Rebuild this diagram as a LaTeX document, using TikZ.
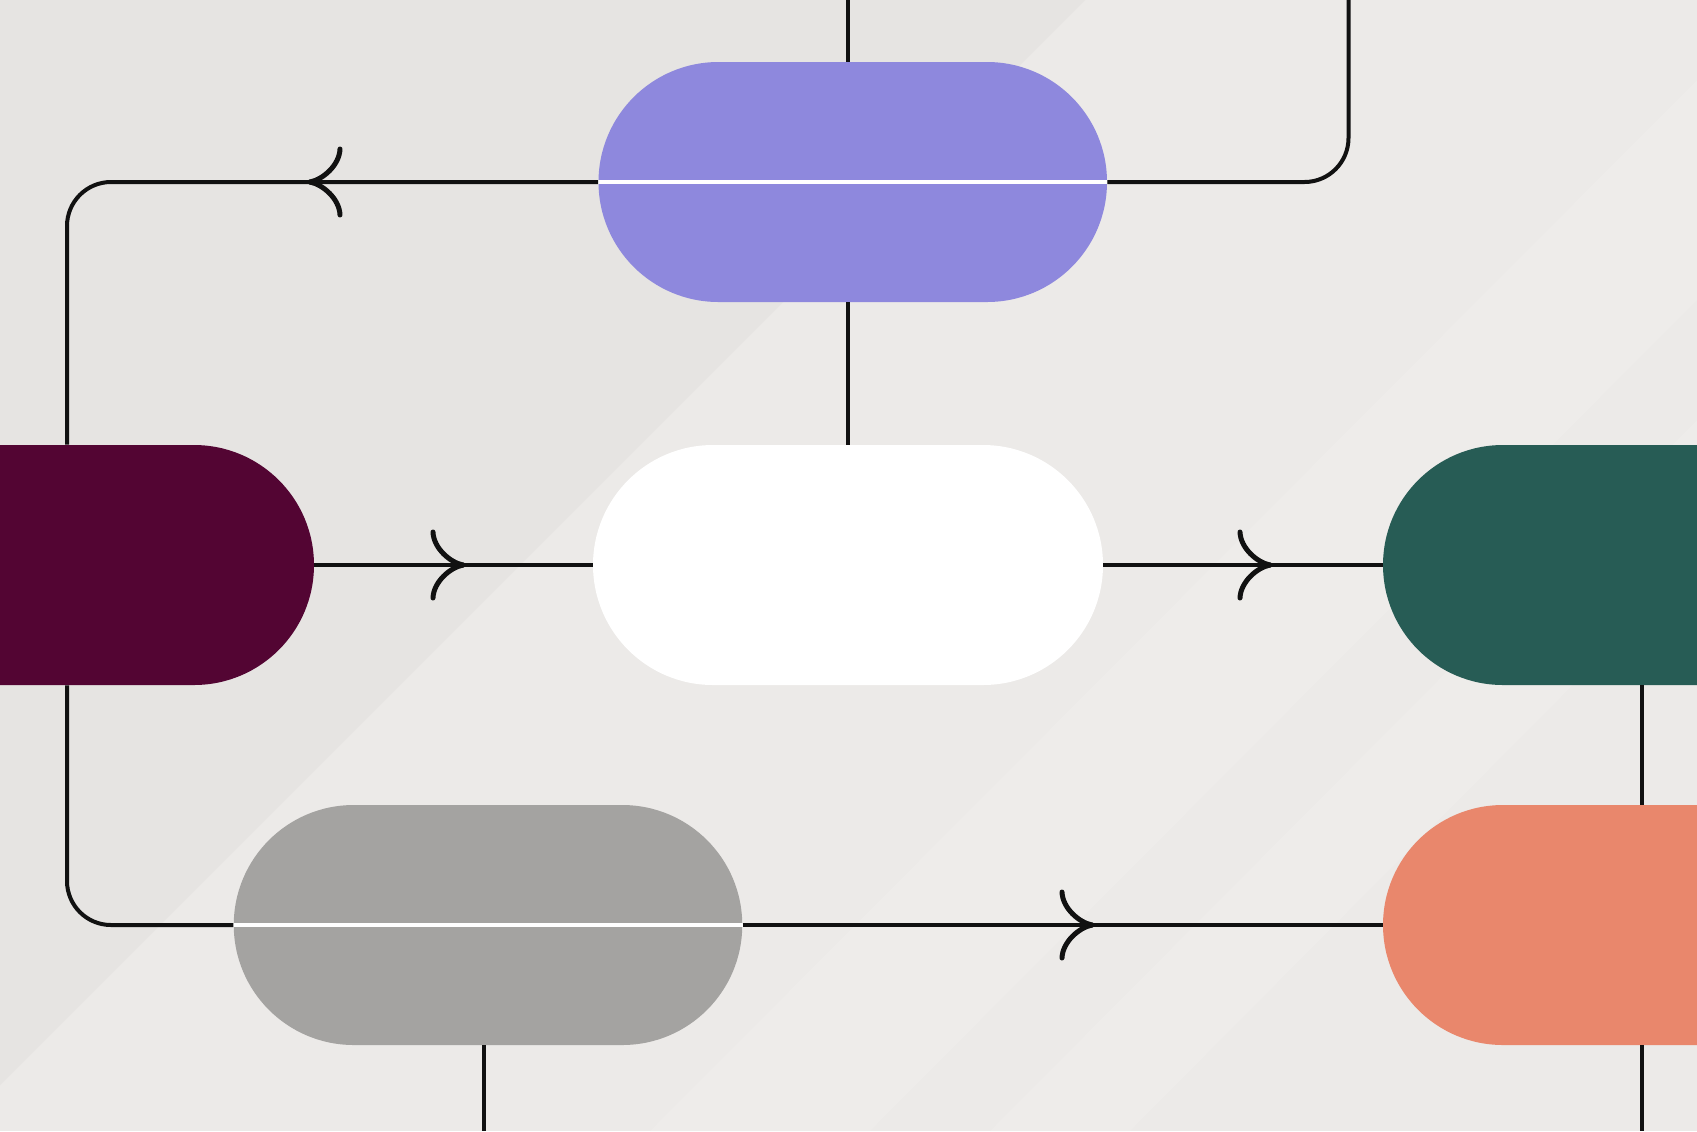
\documentclass[tikz,border=0pt]{standalone}
\usetikzlibrary{calc}
\definecolor{bg}{HTML}{ECEAE8}
\definecolor{bgdark}{HTML}{E6E4E2}
\definecolor{bglight}{HTML}{EEECEA}
\definecolor{purplepill}{HTML}{8E88DD}
\definecolor{maroonpill}{HTML}{530533}
\definecolor{greenpill}{HTML}{275C55}
\definecolor{salmonpill}{HTML}{E9876C}
\definecolor{graypill}{HTML}{A4A3A1}
\definecolor{ink}{HTML}{111111}
\tikzset{
  pill/.style={rectangle, rounded corners=60pt, minimum height=120pt, inner sep=0pt, draw=none},
  conn/.style={draw=ink, line width=2pt, rounded corners=22pt},
  splitline/.style={draw=white, line width=1.8pt},
  arm/.style={draw=ink, line width=2.5pt, line cap=round, sharp corners},
  pics/harp/.style={code={
    \draw[arm] (-30,-33) .. controls (-29.5,-17) and (-13,-2.5) .. (0,0);
    \draw[arm] (-30,33) .. controls (-29.5,17) and (-13,2.5) .. (0,0);}}
}
\begin{document}
\begin{tikzpicture}[x=0.5pt,y=-0.5pt]
\useasboundingbox (0,0) rectangle (1697,1131);
\clip (0,0) rectangle (1697,1131);
% background
\fill[bg] (0,0) rectangle (1697,1131);
\fill[bglight] (1697,80) -- (1697,300) -- (870,1131) -- (650,1131) -- cycle;
\fill[bglight] (1697,420) -- (1697,560) -- (1130,1131) -- (990,1131) -- cycle;
\fill[bgdark] (0,0) -- (1085,0) -- (0,1085) -- cycle;

% pills
\node[pill, fill=purplepill, minimum width=254.25pt] (purple) at (852.75,182) {};
\node[pill, fill=white, minimum width=255pt] (white) at (848,565) {};
\node[pill, fill=maroonpill, minimum width=257pt] (maroon) at (57,565) {};
\node[pill, fill=greenpill, minimum width=258.5pt] (green) at (1641.5,565) {};
\node[pill, fill=salmonpill, minimum width=258.5pt] (salmon) at (1641.5,925) {};
\node[pill, fill=graypill, minimum width=254.25pt] (gray) at (488,925) {};

\draw[splitline] (purple.west) -- (purple.east);
\draw[splitline] (gray.west) -- (gray.east);

% free ends
\coordinate (ptop) at (848,0);
\coordinate (lx) at (67,0);
\coordinate (tr) at (1348.5,0);
\coordinate (gbot) at (484,1131);
\coordinate (sbot) at (1641.5,1131);

% connectors
\draw[conn] (ptop) -- (ptop |- purple.north);
\draw[conn] (white.north |- purple.south) -- (white.north);
\draw[conn] (purple.west) -| (maroon.north -| lx);
\draw[conn] (maroon.south -| lx) |- (gray.west);
\draw[conn] (purple.east) -| (tr);
\draw[conn] (maroon.east) -- (white.west);
\draw[conn] (white.east) -- (green.west);
\draw[conn] (green.south) -- (salmon.north);
\draw[conn] (salmon.south) -- (sbot);
\draw[conn] (gray.east) -- (salmon.west);
\draw[conn] (gray.south -| gbot) -- (gbot);

% arrowheads
\coordinate (a1) at (310,182);
\coordinate (a2) at (463,565);
\coordinate (a3) at (1270,565);
\coordinate (a4) at (1092,925);
\pic[xscale=-1] at (a1) {harp};
\pic at (a2) {harp};
\pic at (a3) {harp};
\pic at (a4) {harp};
\end{tikzpicture}
\end{document}
